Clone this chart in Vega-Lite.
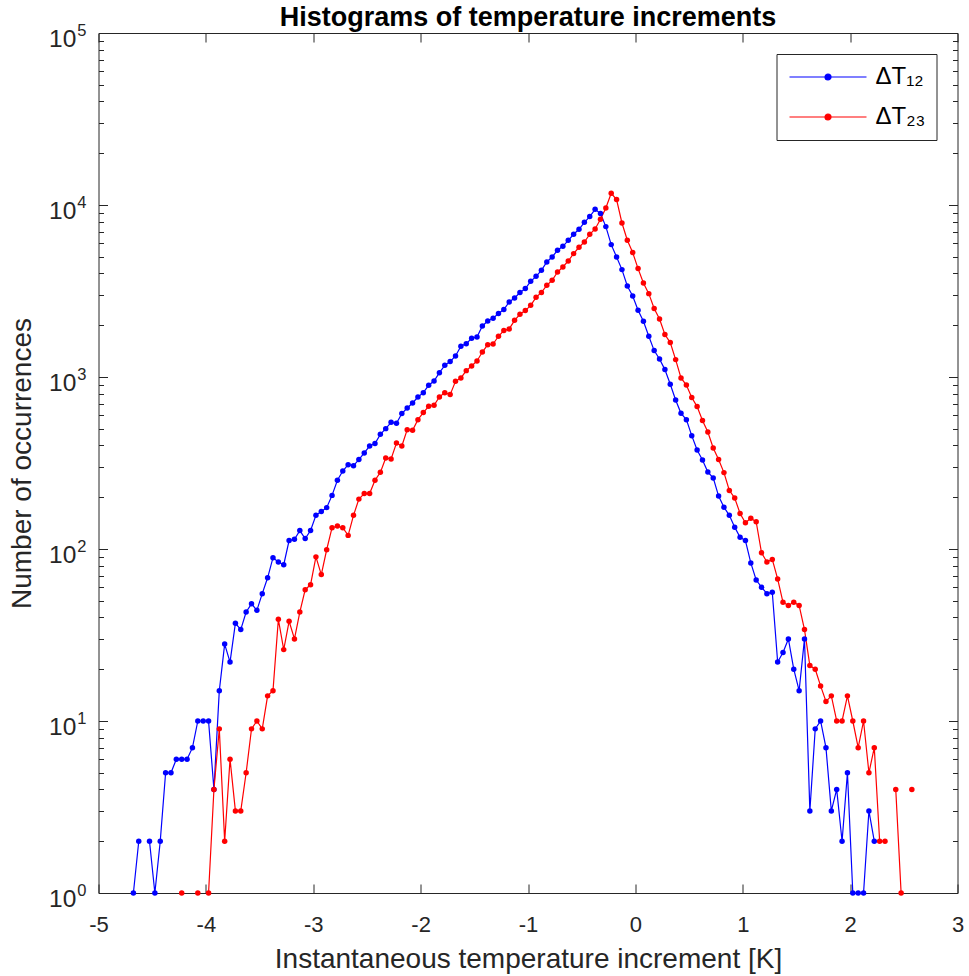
{
  "$schema": "https://vega.github.io/schema/vega-lite/v6.json",
  "width": 859,
  "height": 860,
  "autosize": "none",
  "padding": {"left": 98.5, "top": 33, "right": 11.5, "bottom": 83},
  "background": "white",
  "title": {"text": "Histograms of temperature increments", "fontSize": 27, "fontWeight": "bold", "font": "Liberation Sans", "color": "#000000", "anchor": "middle", "offset": -10},
  "config": {"view": {"stroke": null}, "font": "Liberation Sans"},
  "datasets": {
    "hist": [
      {"series":"ΔT₁₂","increment":-4.675,"count":1},
      {"series":"ΔT₁₂","increment":-4.625,"count":2},
      {"series":"ΔT₁₂","increment":-4.575,"count":null},
      {"series":"ΔT₁₂","increment":-4.525,"count":2},
      {"series":"ΔT₁₂","increment":-4.475,"count":1},
      {"series":"ΔT₁₂","increment":-4.425,"count":2},
      {"series":"ΔT₁₂","increment":-4.375,"count":5},
      {"series":"ΔT₁₂","increment":-4.325,"count":5},
      {"series":"ΔT₁₂","increment":-4.275,"count":6},
      {"series":"ΔT₁₂","increment":-4.225,"count":6},
      {"series":"ΔT₁₂","increment":-4.175,"count":6},
      {"series":"ΔT₁₂","increment":-4.125,"count":7},
      {"series":"ΔT₁₂","increment":-4.075,"count":10},
      {"series":"ΔT₁₂","increment":-4.025,"count":10},
      {"series":"ΔT₁₂","increment":-3.975,"count":10},
      {"series":"ΔT₁₂","increment":-3.925,"count":4},
      {"series":"ΔT₁₂","increment":-3.875,"count":15},
      {"series":"ΔT₁₂","increment":-3.825,"count":28},
      {"series":"ΔT₁₂","increment":-3.775,"count":22},
      {"series":"ΔT₁₂","increment":-3.725,"count":37},
      {"series":"ΔT₁₂","increment":-3.675,"count":34},
      {"series":"ΔT₁₂","increment":-3.625,"count":43},
      {"series":"ΔT₁₂","increment":-3.575,"count":48},
      {"series":"ΔT₁₂","increment":-3.525,"count":44},
      {"series":"ΔT₁₂","increment":-3.475,"count":55},
      {"series":"ΔT₁₂","increment":-3.425,"count":68},
      {"series":"ΔT₁₂","increment":-3.375,"count":89},
      {"series":"ΔT₁₂","increment":-3.325,"count":84},
      {"series":"ΔT₁₂","increment":-3.275,"count":81},
      {"series":"ΔT₁₂","increment":-3.225,"count":112},
      {"series":"ΔT₁₂","increment":-3.175,"count":114},
      {"series":"ΔT₁₂","increment":-3.125,"count":128},
      {"series":"ΔT₁₂","increment":-3.075,"count":115},
      {"series":"ΔT₁₂","increment":-3.025,"count":128},
      {"series":"ΔT₁₂","increment":-2.975,"count":157},
      {"series":"ΔT₁₂","increment":-2.925,"count":165},
      {"series":"ΔT₁₂","increment":-2.875,"count":174},
      {"series":"ΔT₁₂","increment":-2.825,"count":205},
      {"series":"ΔT₁₂","increment":-2.775,"count":251},
      {"series":"ΔT₁₂","increment":-2.725,"count":284},
      {"series":"ΔT₁₂","increment":-2.675,"count":309},
      {"series":"ΔT₁₂","increment":-2.625,"count":305},
      {"series":"ΔT₁₂","increment":-2.575,"count":331},
      {"series":"ΔT₁₂","increment":-2.525,"count":362},
      {"series":"ΔT₁₂","increment":-2.475,"count":397},
      {"series":"ΔT₁₂","increment":-2.425,"count":410},
      {"series":"ΔT₁₂","increment":-2.375,"count":464},
      {"series":"ΔT₁₂","increment":-2.325,"count":501},
      {"series":"ΔT₁₂","increment":-2.275,"count":545},
      {"series":"ΔT₁₂","increment":-2.225,"count":538},
      {"series":"ΔT₁₂","increment":-2.175,"count":613},
      {"series":"ΔT₁₂","increment":-2.125,"count":660},
      {"series":"ΔT₁₂","increment":-2.075,"count":706},
      {"series":"ΔT₁₂","increment":-2.025,"count":765},
      {"series":"ΔT₁₂","increment":-1.975,"count":811},
      {"series":"ΔT₁₂","increment":-1.925,"count":895},
      {"series":"ΔT₁₂","increment":-1.875,"count":948},
      {"series":"ΔT₁₂","increment":-1.825,"count":1060},
      {"series":"ΔT₁₂","increment":-1.775,"count":1169},
      {"series":"ΔT₁₂","increment":-1.725,"count":1229},
      {"series":"ΔT₁₂","increment":-1.675,"count":1325},
      {"series":"ΔT₁₂","increment":-1.625,"count":1508},
      {"series":"ΔT₁₂","increment":-1.575,"count":1563},
      {"series":"ΔT₁₂","increment":-1.525,"count":1679},
      {"series":"ΔT₁₂","increment":-1.475,"count":1709},
      {"series":"ΔT₁₂","increment":-1.425,"count":1981},
      {"series":"ΔT₁₂","increment":-1.375,"count":2118},
      {"series":"ΔT₁₂","increment":-1.325,"count":2195},
      {"series":"ΔT₁₂","increment":-1.275,"count":2338},
      {"series":"ΔT₁₂","increment":-1.225,"count":2466},
      {"series":"ΔT₁₂","increment":-1.175,"count":2730},
      {"series":"ΔT₁₂","increment":-1.125,"count":2879},
      {"series":"ΔT₁₂","increment":-1.075,"count":3097},
      {"series":"ΔT₁₂","increment":-1.025,"count":3265},
      {"series":"ΔT₁₂","increment":-0.975,"count":3599},
      {"series":"ΔT₁₂","increment":-0.925,"count":3848},
      {"series":"ΔT₁₂","increment":-0.875,"count":4171},
      {"series":"ΔT₁₂","increment":-0.825,"count":4665},
      {"series":"ΔT₁₂","increment":-0.775,"count":4987},
      {"series":"ΔT₁₂","increment":-0.725,"count":5454},
      {"series":"ΔT₁₂","increment":-0.675,"count":5754},
      {"series":"ΔT₁₂","increment":-0.625,"count":6235},
      {"series":"ΔT₁₂","increment":-0.575,"count":6757},
      {"series":"ΔT₁₂","increment":-0.525,"count":7224},
      {"series":"ΔT₁₂","increment":-0.475,"count":7929},
      {"series":"ΔT₁₂","increment":-0.425,"count":8565},
      {"series":"ΔT₁₂","increment":-0.375,"count":9441},
      {"series":"ΔT₁₂","increment":-0.325,"count":8919},
      {"series":"ΔT₁₂","increment":-0.275,"count":7487},
      {"series":"ΔT₁₂","increment":-0.225,"count":5884},
      {"series":"ΔT₁₂","increment":-0.175,"count":4987},
      {"series":"ΔT₁₂","increment":-0.125,"count":4210},
      {"series":"ΔT₁₂","increment":-0.075,"count":3382},
      {"series":"ΔT₁₂","increment":-0.025,"count":2959},
      {"series":"ΔT₁₂","increment":0.025,"count":2442},
      {"series":"ΔT₁₂","increment":0.075,"count":2109},
      {"series":"ΔT₁₂","increment":0.125,"count":1725},
      {"series":"ΔT₁₂","increment":0.175,"count":1424},
      {"series":"ΔT₁₂","increment":0.225,"count":1273},
      {"series":"ΔT₁₂","increment":0.275,"count":1104},
      {"series":"ΔT₁₂","increment":0.325,"count":907},
      {"series":"ΔT₁₂","increment":0.375,"count":735},
      {"series":"ΔT₁₂","increment":0.425,"count":615},
      {"series":"ΔT₁₂","increment":0.475,"count":565},
      {"series":"ΔT₁₂","increment":0.525,"count":456},
      {"series":"ΔT₁₂","increment":0.575,"count":376},
      {"series":"ΔT₁₂","increment":0.625,"count":329},
      {"series":"ΔT₁₂","increment":0.675,"count":280},
      {"series":"ΔT₁₂","increment":0.725,"count":259},
      {"series":"ΔT₁₂","increment":0.775,"count":203},
      {"series":"ΔT₁₂","increment":0.825,"count":175},
      {"series":"ΔT₁₂","increment":0.875,"count":157},
      {"series":"ΔT₁₂","increment":0.925,"count":134},
      {"series":"ΔT₁₂","increment":0.975,"count":117},
      {"series":"ΔT₁₂","increment":1.025,"count":112},
      {"series":"ΔT₁₂","increment":1.075,"count":83},
      {"series":"ΔT₁₂","increment":1.125,"count":66},
      {"series":"ΔT₁₂","increment":1.175,"count":60},
      {"series":"ΔT₁₂","increment":1.225,"count":55},
      {"series":"ΔT₁₂","increment":1.275,"count":56},
      {"series":"ΔT₁₂","increment":1.325,"count":22},
      {"series":"ΔT₁₂","increment":1.375,"count":25},
      {"series":"ΔT₁₂","increment":1.425,"count":30},
      {"series":"ΔT₁₂","increment":1.475,"count":20},
      {"series":"ΔT₁₂","increment":1.525,"count":15},
      {"series":"ΔT₁₂","increment":1.575,"count":30},
      {"series":"ΔT₁₂","increment":1.625,"count":3},
      {"series":"ΔT₁₂","increment":1.675,"count":9},
      {"series":"ΔT₁₂","increment":1.725,"count":10},
      {"series":"ΔT₁₂","increment":1.775,"count":7},
      {"series":"ΔT₁₂","increment":1.825,"count":3},
      {"series":"ΔT₁₂","increment":1.875,"count":4},
      {"series":"ΔT₁₂","increment":1.925,"count":2},
      {"series":"ΔT₁₂","increment":1.975,"count":5},
      {"series":"ΔT₁₂","increment":2.025,"count":1},
      {"series":"ΔT₁₂","increment":2.075,"count":1},
      {"series":"ΔT₁₂","increment":2.125,"count":1},
      {"series":"ΔT₁₂","increment":2.175,"count":3},
      {"series":"ΔT₁₂","increment":2.225,"count":2},
      {"series":"ΔT₂₃","increment":-4.225,"count":1},
      {"series":"ΔT₂₃","increment":-4.175,"count":null},
      {"series":"ΔT₂₃","increment":-4.125,"count":null},
      {"series":"ΔT₂₃","increment":-4.075,"count":1},
      {"series":"ΔT₂₃","increment":-4.025,"count":null},
      {"series":"ΔT₂₃","increment":-3.975,"count":1},
      {"series":"ΔT₂₃","increment":-3.925,"count":4},
      {"series":"ΔT₂₃","increment":-3.875,"count":9},
      {"series":"ΔT₂₃","increment":-3.825,"count":2},
      {"series":"ΔT₂₃","increment":-3.775,"count":6},
      {"series":"ΔT₂₃","increment":-3.725,"count":3},
      {"series":"ΔT₂₃","increment":-3.675,"count":3},
      {"series":"ΔT₂₃","increment":-3.625,"count":5},
      {"series":"ΔT₂₃","increment":-3.575,"count":9},
      {"series":"ΔT₂₃","increment":-3.525,"count":10},
      {"series":"ΔT₂₃","increment":-3.475,"count":9},
      {"series":"ΔT₂₃","increment":-3.425,"count":14},
      {"series":"ΔT₂₃","increment":-3.375,"count":15},
      {"series":"ΔT₂₃","increment":-3.325,"count":39},
      {"series":"ΔT₂₃","increment":-3.275,"count":26},
      {"series":"ΔT₂₃","increment":-3.225,"count":38},
      {"series":"ΔT₂₃","increment":-3.175,"count":30},
      {"series":"ΔT₂₃","increment":-3.125,"count":43},
      {"series":"ΔT₂₃","increment":-3.075,"count":58},
      {"series":"ΔT₂₃","increment":-3.025,"count":62},
      {"series":"ΔT₂₃","increment":-2.975,"count":90},
      {"series":"ΔT₂₃","increment":-2.925,"count":71},
      {"series":"ΔT₂₃","increment":-2.875,"count":99},
      {"series":"ΔT₂₃","increment":-2.825,"count":133},
      {"series":"ΔT₂₃","increment":-2.775,"count":136},
      {"series":"ΔT₂₃","increment":-2.725,"count":133},
      {"series":"ΔT₂₃","increment":-2.675,"count":120},
      {"series":"ΔT₂₃","increment":-2.625,"count":157},
      {"series":"ΔT₂₃","increment":-2.575,"count":195},
      {"series":"ΔT₂₃","increment":-2.525,"count":210},
      {"series":"ΔT₂₃","increment":-2.475,"count":210},
      {"series":"ΔT₂₃","increment":-2.425,"count":251},
      {"series":"ΔT₂₃","increment":-2.375,"count":279},
      {"series":"ΔT₂₃","increment":-2.325,"count":338},
      {"series":"ΔT₂₃","increment":-2.275,"count":334},
      {"series":"ΔT₂₃","increment":-2.225,"count":413},
      {"series":"ΔT₂₃","increment":-2.175,"count":397},
      {"series":"ΔT₂₃","increment":-2.125,"count":494},
      {"series":"ΔT₂₃","increment":-2.075,"count":490},
      {"series":"ΔT₂₃","increment":-2.025,"count":565},
      {"series":"ΔT₂₃","increment":-1.975,"count":621},
      {"series":"ΔT₂₃","increment":-1.925,"count":676},
      {"series":"ΔT₂₃","increment":-1.875,"count":685},
      {"series":"ΔT₂₃","increment":-1.825,"count":765},
      {"series":"ΔT₂₃","increment":-1.775,"count":811},
      {"series":"ΔT₂₃","increment":-1.725,"count":790},
      {"series":"ΔT₂₃","increment":-1.675,"count":944},
      {"series":"ΔT₂₃","increment":-1.625,"count":987},
      {"series":"ΔT₂₃","increment":-1.575,"count":1089},
      {"series":"ΔT₂₃","increment":-1.525,"count":1158},
      {"series":"ΔT₂₃","increment":-1.475,"count":1239},
      {"series":"ΔT₂₃","increment":-1.425,"count":1397},
      {"series":"ΔT₂₃","increment":-1.375,"count":1542},
      {"series":"ΔT₂₃","increment":-1.325,"count":1556},
      {"series":"ΔT₂₃","increment":-1.275,"count":1725},
      {"series":"ΔT₂₃","increment":-1.225,"count":1861},
      {"series":"ΔT₂₃","increment":-1.175,"count":1903},
      {"series":"ΔT₂₃","increment":-1.125,"count":2136},
      {"series":"ΔT₂₃","increment":-1.075,"count":2316},
      {"series":"ΔT₂₃","increment":-1.025,"count":2433},
      {"series":"ΔT₂₃","increment":-0.975,"count":2610},
      {"series":"ΔT₂₃","increment":-0.925,"count":2905},
      {"series":"ΔT₂₃","increment":-0.875,"count":3104},
      {"series":"ΔT₂₃","increment":-0.825,"count":3412},
      {"series":"ΔT₂₃","increment":-0.775,"count":3650},
      {"series":"ΔT₂₃","increment":-0.725,"count":4077},
      {"series":"ΔT₂₃","increment":-0.675,"count":4361},
      {"series":"ΔT₂₃","increment":-0.625,"count":4726},
      {"series":"ΔT₂₃","increment":-0.575,"count":5216},
      {"series":"ΔT₂₃","increment":-0.525,"count":5680},
      {"series":"ΔT₂₃","increment":-0.475,"count":6096},
      {"series":"ΔT₂₃","increment":-0.425,"count":6757},
      {"series":"ΔT₂₃","increment":-0.375,"count":7258},
      {"series":"ΔT₂₃","increment":-0.325,"count":8258},
      {"series":"ΔT₂₃","increment":-0.275,"count":9608},
      {"series":"ΔT₂₃","increment":-0.225,"count":11700},
      {"series":"ΔT₂₃","increment":-0.175,"count":10750},
      {"series":"ΔT₂₃","increment":-0.125,"count":7858},
      {"series":"ΔT₂₃","increment":-0.075,"count":6235},
      {"series":"ΔT₂₃","increment":-0.025,"count":5290},
      {"series":"ΔT₂₃","increment":0.025,"count":4268},
      {"series":"ΔT₂₃","increment":0.075,"count":3521},
      {"series":"ΔT₂₃","increment":0.125,"count":3053},
      {"series":"ΔT₂₃","increment":0.175,"count":2500},
      {"series":"ΔT₂₃","increment":0.225,"count":2174},
      {"series":"ΔT₂₃","increment":0.275,"count":1766},
      {"series":"ΔT₂₃","increment":0.325,"count":1585},
      {"series":"ΔT₂₃","increment":0.375,"count":1262},
      {"series":"ΔT₂₃","increment":0.425,"count":987},
      {"series":"ΔT₂₃","increment":0.475,"count":898},
      {"series":"ΔT₂₃","increment":0.525,"count":759},
      {"series":"ΔT₂₃","increment":0.575,"count":673},
      {"series":"ΔT₂₃","increment":0.625,"count":558},
      {"series":"ΔT₂₃","increment":0.675,"count":479},
      {"series":"ΔT₂₃","increment":0.725,"count":387},
      {"series":"ΔT₂₃","increment":0.775,"count":331},
      {"series":"ΔT₂₃","increment":0.825,"count":278},
      {"series":"ΔT₂₃","increment":0.875,"count":219},
      {"series":"ΔT₂₃","increment":0.925,"count":198},
      {"series":"ΔT₂₃","increment":0.975,"count":161},
      {"series":"ΔT₂₃","increment":1.025,"count":142},
      {"series":"ΔT₂₃","increment":1.075,"count":151},
      {"series":"ΔT₂₃","increment":1.125,"count":144},
      {"series":"ΔT₂₃","increment":1.175,"count":95},
      {"series":"ΔT₂₃","increment":1.225,"count":84},
      {"series":"ΔT₂₃","increment":1.275,"count":87},
      {"series":"ΔT₂₃","increment":1.325,"count":67},
      {"series":"ΔT₂₃","increment":1.375,"count":49},
      {"series":"ΔT₂₃","increment":1.425,"count":47},
      {"series":"ΔT₂₃","increment":1.475,"count":49},
      {"series":"ΔT₂₃","increment":1.525,"count":47},
      {"series":"ΔT₂₃","increment":1.575,"count":34},
      {"series":"ΔT₂₃","increment":1.625,"count":21},
      {"series":"ΔT₂₃","increment":1.675,"count":20},
      {"series":"ΔT₂₃","increment":1.725,"count":16},
      {"series":"ΔT₂₃","increment":1.775,"count":13},
      {"series":"ΔT₂₃","increment":1.825,"count":14},
      {"series":"ΔT₂₃","increment":1.875,"count":10},
      {"series":"ΔT₂₃","increment":1.925,"count":10},
      {"series":"ΔT₂₃","increment":1.975,"count":14},
      {"series":"ΔT₂₃","increment":2.025,"count":10},
      {"series":"ΔT₂₃","increment":2.075,"count":7},
      {"series":"ΔT₂₃","increment":2.125,"count":10},
      {"series":"ΔT₂₃","increment":2.175,"count":5},
      {"series":"ΔT₂₃","increment":2.225,"count":7},
      {"series":"ΔT₂₃","increment":2.275,"count":2},
      {"series":"ΔT₂₃","increment":2.325,"count":2},
      {"series":"ΔT₂₃","increment":2.375,"count":null},
      {"series":"ΔT₂₃","increment":2.425,"count":4},
      {"series":"ΔT₂₃","increment":2.475,"count":1},
      {"series":"ΔT₂₃","increment":2.525,"count":null},
      {"series":"ΔT₂₃","increment":2.575,"count":4}
    ]
  },
  "data": {"name": "hist"},
  "layer": [
    {
      "mark": {"type": "line", "strokeWidth": 1.2, "invalid": "break-paths-filter-domains"},
      "encoding": {
        "x": {
          "field": "increment", "type": "quantitative",
          "scale": {"domain": [-5, 3], "nice": false, "zero": false},
          "axis": {
            "orient": "bottom", "values": [-5, -4, -3, -2, -1, 0, 1, 2, 3],
            "labelExpr": "'' + datum.value", "labelFlush": false, "labelOverlap": false,
            "labelFontSize": 22, "labelColor": "#262626", "labelPadding": 30,
            "tickSize": -9, "tickColor": "#262626", "tickWidth": 1,
            "domainColor": "#262626", "domainWidth": 1, "grid": false,
            "title": "Instantaneous temperature increment [K]", "titleFontSize": 28,
            "titleFontWeight": "normal", "titleColor": "#262626", "titlePadding": 10
          }
        },
        "y": {
          "field": "count", "type": "quantitative",
          "scale": {"type": "log", "domain": [1, 100000], "nice": false},
          "axis": {
            "orient": "left",
            "values": [1,2,3,4,5,6,7,8,9,10,20,30,40,50,60,70,80,90,100,200,300,400,500,600,700,800,900,1000,2000,3000,4000,5000,6000,7000,8000,9000,10000,20000,30000,40000,50000,60000,70000,80000,90000,100000],
            "labelExpr": "indexof([1,10,100,1000,10000,100000], datum.value) >= 0 ? '10' : ''",
            "labelFlush": false, "labelOverlap": false, "labelBound": false,
            "labelFontSize": 24.5, "labelColor": "#262626", "labelPadding": 31.7, "labelOffset": 6.5,
            "tickSize": {"condition": {"test": "indexof([1,10,100,1000,10000,100000], datum.value) >= 0", "value": -9}, "value": -5},
            "tickColor": "#262626", "tickWidth": 1,
            "domainColor": "#262626", "domainWidth": 1, "grid": false,
            "title": "Number of occurrences", "titleFontSize": 28,
            "titleFontWeight": "normal", "titleColor": "#262626", "titlePadding": 12
          }
        },
        "color": {
          "field": "series", "type": "nominal",
          "scale": {"domain": ["ΔT₁₂", "ΔT₂₃"], "range": ["#0000ff", "#ff0000"]},
          "legend": {
            "orient": "top-right", "offset": 21, "title": null,
            "symbolType": "M-1,0H6.7M2.55,0A0.3,0.3,0,1,1,3.15,0A0.3,0.3,0,1,1,2.55,0Z",
            "symbolSize": 400, "symbolStrokeWidth": 1.2,
            "labelFontSize": 24, "labelColor": "#000000", "labelOffset": 64,
            "padding": 11, "rowPadding": 16,
            "strokeColor": "#262626", "fillColor": "white", "cornerRadius": 0,
            "encode": {"symbols": {"update": {"fill": {"scale": "color", "field": "value"}, "stroke": {"scale": "color", "field": "value"}}}}
          }
        }
      }
    },
    {
      "mark": {"type": "point", "filled": true, "size": 30, "opacity": 1},
      "encoding": {
        "x": {
          "field": "increment", "type": "quantitative",
          "axis": {
            "orient": "top", "values": [-5, -4, -3, -2, -1, 0, 1, 2, 3], "labels": false,
            "tickSize": -9, "tickColor": "#262626", "tickWidth": 1,
            "domainColor": "#262626", "domainWidth": 1, "grid": false, "title": null
          }
        },
        "y": {
          "field": "count", "type": "quantitative",
          "axis": {
            "orient": "right",
            "values": [1,2,3,4,5,6,7,8,9,10,20,30,40,50,60,70,80,90,100,200,300,400,500,600,700,800,900,1000,2000,3000,4000,5000,6000,7000,8000,9000,10000,20000,30000,40000,50000,60000,70000,80000,90000,100000],
            "labels": false,
            "tickSize": {"condition": {"test": "indexof([1,10,100,1000,10000,100000], datum.value) >= 0", "value": -9}, "value": -5},
            "tickColor": "#262626", "tickWidth": 1,
            "domainColor": "#262626", "domainWidth": 1, "grid": false, "title": null
          }
        },
        "color": {"field": "series", "type": "nominal", "legend": null}
      }
    },
    {
      "mark": {"type": "point", "opacity": 0},
      "encoding": {
        "y": {
          "field": "count", "type": "quantitative",
          "axis": {
            "orient": "left",
            "values": [1, 10, 100, 1000, 10000, 100000],
            "labelExpr": "'' + round(log(datum.value)/LN10)",
            "labelFlush": false, "labelOverlap": false, "labelBound": false,
            "labelFontSize": 16.5, "labelColor": "#262626", "labelAlign": "left",
            "labelPadding": 21.7, "labelOffset": -3,
            "ticks": false, "domain": false, "grid": false, "title": null
          }
        }
      }
    }
  ],
  "resolve": {"axis": {"x": "independent", "y": "independent"}}
}
